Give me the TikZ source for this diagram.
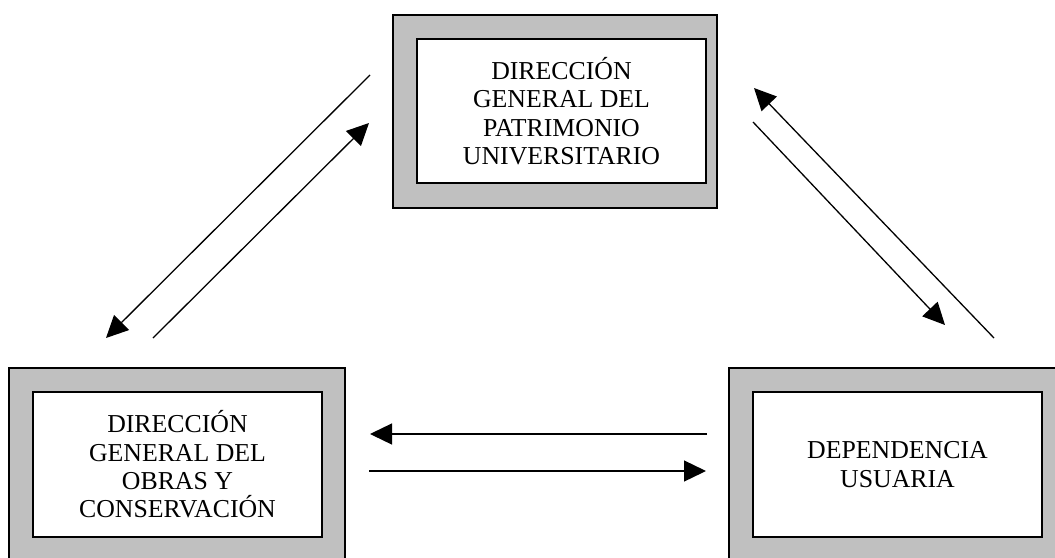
\documentclass[tikz,border=0pt]{standalone}
\usepackage{fontspec}
\setmainfont{Liberation Serif}
\usetikzlibrary{arrows.meta}
\begin{document}
\begin{tikzpicture}[x=1pt,y=-1pt,
  frame/.style={draw=black,line width=1.5pt,fill=gray75},
  inner/.style={draw=black,line width=1.8pt,fill=white,minimum width=289pt,minimum height=145pt,
    align=center,inner sep=0pt,font=\fontsize{25.8}{28.3}\selectfont},
  flow/.style={line width=1.3pt,-{Triangle[length=22pt,width=21pt]}}]
\definecolor{gray75}{HTML}{C0C0C0}
\useasboundingbox (0,0) rectangle (1055,557);
\begin{scope}
\clip (0,0) rectangle (1055,557);
\draw[frame] (393,15) rectangle (717,208);
\draw[frame] (9,368) rectangle (345,575);
\draw[frame] (729,368) rectangle (1075,575);
\end{scope}
\node[inner,minimum height=144pt] (dgp) at (561.5,111) {DIRECCIÓN\\GENERAL DEL\\PATRIMONIO\\UNIVERSITARIO};
\node[inner] (dgo) at (177.5,464.5) {DIRECCIÓN\\GENERAL DEL\\OBRAS Y\\CONSERVACIÓN};
\node[inner] (du) at (897.5,464.5) {DEPENDENCIA\\USUARIA};
% connector end points
\coordinate (a1s) at (370,75);  \coordinate (a1e) at (106,338);
\coordinate (a2s) at (153,338); \coordinate (a2e) at (369,123);
\coordinate (b1s) at (994,338); \coordinate (b1e) at (754,88);
\coordinate (b2s) at (753,122); \coordinate (b2e) at (945,325);
\coordinate (c1s) at (707,434); \coordinate (c1e) at (370,434);
\coordinate (c2s) at (369,471); \coordinate (c2e) at (706,471);
\draw[flow] (a1s) -- (a1e);
\draw[flow] (a2s) -- (a2e);
\draw[flow] (b1s) -- (b1e);
\draw[flow] (b2s) -- (b2e);
\draw[flow] (c1s) -- (c1e);
\draw[flow] (c2s) -- (c2e);
\end{tikzpicture}
\end{document}
